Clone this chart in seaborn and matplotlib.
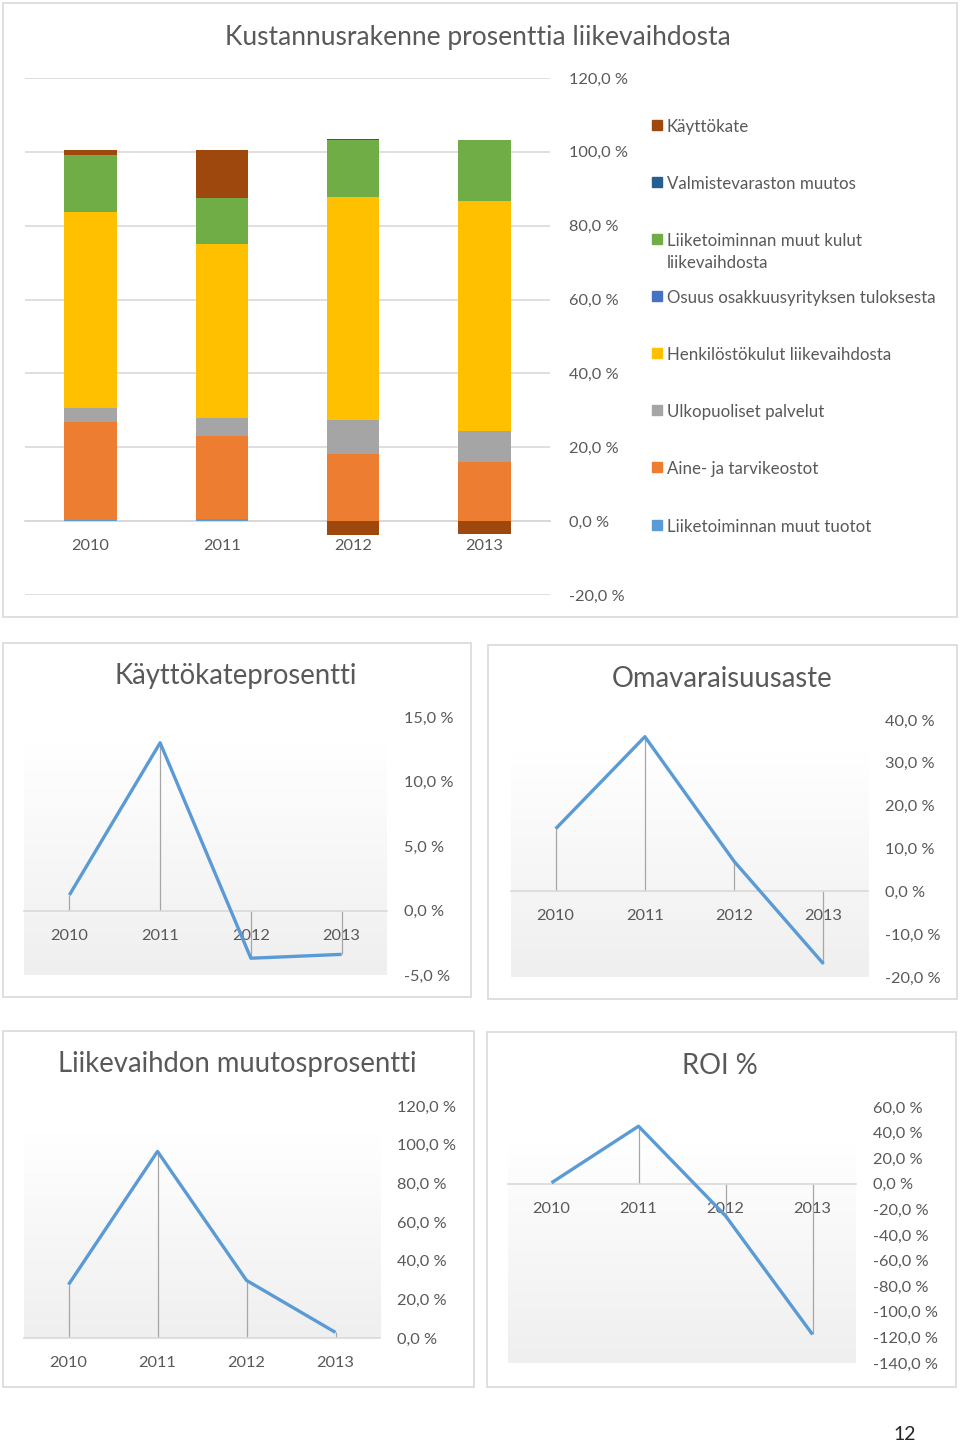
import numpy as np
import matplotlib.pyplot as plt
import seaborn as sns
from matplotlib.patches import Rectangle
from matplotlib.colors import LinearSegmentedColormap
from matplotlib.ticker import FuncFormatter

W, H = 960, 1446

vuodet = ["2010", "2011", "2012", "2013"]

# kustannusrakenne, % liikevaihdosta (pinossa alhaalta ylös)
muut_tuotot = [0.4, 0.6, 0.0, 0.0]
aine = [26.4, 22.4, 18.3, 16.1]
ulkopuoliset = [3.9, 4.9, 9.0, 8.3]
henkilosto = [53.1, 47.2, 60.5, 62.4]
osakkuus = [0.0, 0.0, 0.0, 0.0]
muut_kulut = [15.4, 12.5, 15.4, 16.5]
varasto = [0.0, 0.0, 0.4, 0.0]
kate = [1.3, 12.9, -3.8, -3.5]

sarjat = ["Liiketoiminnan muut tuotot", "Aine- ja tarvikeostot", "Ulkopuoliset palvelut",
          "Henkilöstökulut liikevaihdosta", "Osuus osakkuusyrityksen tuloksesta",
          "Liiketoiminnan muut kulut\nliikevaihdosta", "Valmistevaraston muutos", "Käyttökate"]
varit = ["#5B9BD5", "#ED7D31", "#A5A5A5", "#FFC000", "#4472C4", "#70AD47", "#255E91", "#9E480E"]

# tunnusluvut
kayttokate_pros = [1.2, 13.0, -3.7, -3.4]
omavaraisuus = [14.6, 36.1, 7.0, -16.9]
lv_muutos = [27.6, 96.5, 29.8, 2.9]
roi = [0.8, 45.0, -25.0, -117.7]

TXT = "#595959"
GRID = "#d9d9d9"

sns.set_theme(style="white")
plt.rcParams['font.family'] = ['Lato', 'DejaVu Sans']

fig = plt.figure(figsize=(W / 100, H / 100), dpi=100)


def px_axes(x0, y0, x1, y1, **kw):
    return fig.add_axes([x0 / W, 1 - y1 / H, (x1 - x0) / W, (y1 - y0) / H], **kw)


def kehys(x0, y0, x1, y1):
    fig.add_artist(Rectangle((x0 / W, 1 - y1 / H), (x1 - x0) / W, (y1 - y0) / H,
                             transform=fig.transFigure, fill=False, ec=GRID, lw=1.2))


def pros(v, _=None):
    return f"{v:.1f} %".replace(".", ",")


# --- Kustannusrakenne ---
kehys(3, 3, 957, 617)
ax = px_axes(25, 78, 550, 595)
arvot = [muut_tuotot, aine, ulkopuoliset, henkilosto, osakkuus, muut_kulut, varasto, kate]
pos = np.zeros(4)
neg = np.zeros(4)
for nimi, v, c in zip(sarjat, arvot, varit):
    v = np.array(v)
    pohja = np.where(v >= 0, pos, neg)
    sns.barplot(x=vuodet, y=v, bottom=pohja, color=c, width=0.4, saturation=1,
                errorbar=None, ax=ax, zorder=3, linewidth=0)
    pos = pos + np.clip(v, 0, None)
    neg = neg + np.clip(v, None, 0)

ax.set_ylim(-20, 120)
ax.set_xlim(-0.5, 3.5)
ax.set_yticks(np.arange(-20, 121, 20))
ax.yaxis.set_major_formatter(FuncFormatter(pros))
ax.yaxis.tick_right()
ax.grid(axis="y", color=GRID, lw=1.2, zorder=0)
ax.set_axisbelow(True)
for s in ["top", "left", "right"]:
    ax.spines[s].set_visible(False)
ax.spines["bottom"].set_position(("data", 0))
ax.spines["bottom"].set_color(GRID)
ax.tick_params(axis="both", length=0, labelsize=11.8, colors=TXT)
ax.tick_params(axis="y", pad=14)
ax.tick_params(axis="x", pad=13)
ax.set_xlabel("")
ax.set_ylabel("")
ax.patch.set_alpha(0)
fig.text(478 / W, 1 - 37 / H, "Kustannusrakenne prosenttia liikevaihdosta",
         ha="center", va="center", fontsize=19, color=TXT)

# selite
sel_y = [125, 182, 239, 296, 353, 410, 467, 525]
for nimi, c, yy in zip(sarjat[::-1], varit[::-1], sel_y):
    fig.add_artist(Rectangle((652 / W, 1 - (yy + 5) / H), 10 / W, 10 / H,
                             transform=fig.transFigure, color=c))
    fig.text(667 / W, 1 - (yy - 6) / H, nimi, ha="left", va="top", fontsize=12.2,
             color=TXT, linespacing=1.45)

grad = LinearSegmentedColormap.from_list("g", ["#ffffff", "#efefef"])


def viivakaavio(kehys_px, alue, bg_top, ylim, tick_step, arvot, otsikko, otsikko_xy):
    kehys(*kehys_px)
    x0, y0, x1, y1 = alue
    bg = px_axes(x0, bg_top, x1, y1, zorder=0)
    bg.imshow(np.linspace(0, 1, 256).reshape(-1, 1), cmap=grad, aspect="auto",
              extent=(0, 1, 0, 1))
    bg.axis("off")
    ax = px_axes(x0, y0, x1, y1, zorder=1)
    ax.patch.set_alpha(0)
    x = np.arange(len(vuodet))
    ax.vlines(x, 0, arvot, color="#a6a6a6", lw=0.9, zorder=2)
    sns.lineplot(x=x, y=arvot, ax=ax, color="#5B9BD5", linewidth=2.4, zorder=3,
                 solid_capstyle="butt")
    ax.set_xlim(-0.5, 3.5)
    ax.set_ylim(*ylim)
    ax.set_xticks(x, vuodet)
    ax.set_yticks(np.arange(ylim[0], ylim[1] + 0.1, tick_step))
    ax.yaxis.set_major_formatter(FuncFormatter(pros))
    ax.yaxis.tick_right()
    for s in ["top", "left", "right"]:
        ax.spines[s].set_visible(False)
    ax.spines["bottom"].set_position(("data", 0))
    ax.spines["bottom"].set_color(GRID)
    ax.spines["bottom"].set_linewidth(1.2)
    ax.tick_params(axis="both", length=0, labelsize=11.8, colors=TXT)
    ax.tick_params(axis="y", pad=12)
    ax.tick_params(axis="x", pad=13)
    ax.set_xlabel("")
    ax.set_ylabel("")
    fig.text(otsikko_xy[0] / W, 1 - otsikko_xy[1] / H, otsikko, ha="center",
             va="center", fontsize=19.8, color=TXT)


viivakaavio((3, 643, 471, 997), (24, 717, 387, 975), 743, (-5, 15), 5,
            kayttokate_pros, "Käyttökateprosentti", (236, 676))
viivakaavio((488, 645, 957, 999), (511, 720, 868, 977), 750, (-20, 40), 10,
            omavaraisuus, "Omavaraisuusaste", (722, 679))
viivakaavio((3, 1031, 474, 1387), (24, 1106, 380, 1338), 1133, (0, 120), 20,
            lv_muutos, "Liikevaihdon muutosprosentti", (237, 1064))
viivakaavio((487, 1032, 956, 1387), (508, 1107, 856, 1363), 1142, (-140, 60), 20,
            roi, "ROI %", (720, 1066))

fig.text(905 / W, 1 - 1435 / H, "12", ha="center", va="center", fontsize=14,
         color="#262626")

fig.savefig("out.png", dpi=100)
